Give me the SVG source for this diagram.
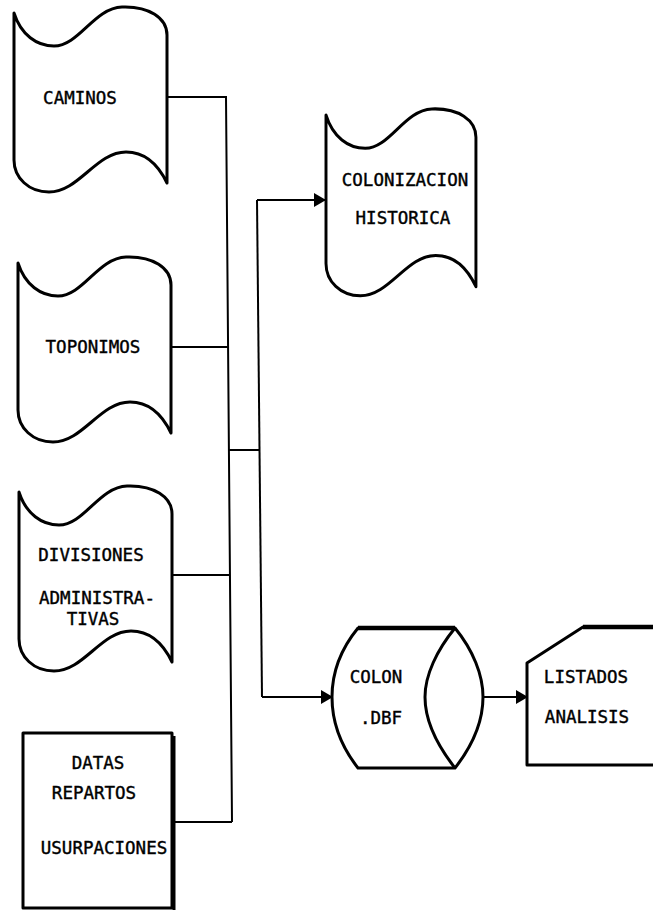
<svg xmlns="http://www.w3.org/2000/svg" width="653" height="915" viewBox="0 0 653 915">
  <defs>
    <style>
      .shape { fill: #fff; stroke: #000; stroke-width: 3; stroke-linejoin: round; }
      .wire { fill: none; stroke: #000; stroke-width: 2; }
      .lbl { font-family: "DejaVu Sans Mono", "Liberation Mono", monospace; font-size: 17.5px; text-anchor: middle; fill: #000; stroke: #000; stroke-width: 0.4; }
    </style>
    <!-- punched-tape outline, origin at its top-left corner -->
    <path id="tape" d="M0,0 C7,22 23,33 40,33 C65,33 80,-5 108,-6 C135,-7 153,5 153,22 L153,170 C142,147 127,139 112,139 C82,139 65,179 35,179 C15,179 0,165 0,147 Z"/>
    <marker id="arrow" markerUnits="userSpaceOnUse" markerWidth="13" markerHeight="14" refX="12" refY="7" orient="auto">
      <path d="M0,0 L12,7 L0,14 Z" fill="#000"/>
    </marker>
  </defs>
  <rect width="653" height="915" fill="#fff"/>

  <g id="connectors">
    <polyline class="wire" points="166,97 226,97 232,822"/>
    <line class="wire" x1="172" y1="347" x2="228" y2="347"/>
    <line class="wire" x1="173" y1="575" x2="230" y2="575"/>
    <line class="wire" x1="175" y1="822" x2="232" y2="822"/>
    <line class="wire" x1="229" y1="450" x2="259" y2="450"/>
    <line class="wire" x1="257" y1="200" x2="262" y2="697"/>
    <line class="wire" x1="257" y1="200" x2="326" y2="200" marker-end="url(#arrow)"/>
    <line class="wire" x1="262" y1="697" x2="333" y2="697" marker-end="url(#arrow)"/>
    <line class="wire" x1="483" y1="697" x2="528" y2="697" marker-end="url(#arrow)"/>
  </g>

  <g id="caminos">
    <use href="#tape" class="shape" x="14" y="13"/>
    <text class="lbl" x="80" y="104">CAMINOS</text>
  </g>

  <g id="toponimos">
    <use href="#tape" class="shape" x="18" y="263"/>
    <text class="lbl" x="93" y="353">TOPONIMOS</text>
  </g>

  <g id="divisiones">
    <use href="#tape" class="shape" x="19" y="492"/>
    <text class="lbl" x="91" y="561">DIVISIONES</text>
    <text class="lbl" x="97" y="604">ADMINISTRA-</text>
    <text class="lbl" x="93" y="625">TIVAS</text>
  </g>

  <g id="datas">
    <rect class="shape" x="23" y="733" width="149" height="175" stroke-width="2.5"/>
    <line x1="174" y1="736" x2="174" y2="910" stroke="#000" stroke-width="3"/>
    <text class="lbl" x="98" y="769">DATAS</text>
    <text class="lbl" x="94" y="799">REPARTOS</text>
    <text class="lbl" x="104" y="854">USURPACIONES</text>
  </g>

  <g id="colonizacion">
    <use href="#tape" class="shape" x="326" y="115" transform="translate(326,115) scale(0.98,1.01) translate(-326,-115)"/>
    <text class="lbl" x="405" y="186">COLONIZACION</text>
    <text class="lbl" x="403" y="224">HISTORICA</text>
  </g>

  <g id="colon-dbf">
    <path class="shape" d="M358,628 L455,628 C473,650 483,675 483,697 C483,720 473,745 455,768 L358,768 C340,745 332,720 332,697 C332,675 340,650 358,628 Z"/>
    <path d="M358,628 L455,628" stroke="#000" stroke-width="4.5" fill="none"/>
    <path class="shape" fill="none" d="M455,628 C437,650 425,675 425,697 C425,720 437,745 455,768"/>
    <text class="lbl" x="376" y="683">COLON</text>
    <text class="lbl" x="381" y="724">.DBF</text>
  </g>

  <g id="listados">
    <path class="shape" d="M665,627 L583,627 L527,663 L527,765 L665,765"/>
    <path d="M583,627 L665,627" stroke="#000" stroke-width="4.5" fill="none"/>
    <text class="lbl" x="586" y="683">LISTADOS</text>
    <text class="lbl" x="587" y="723">ANALISIS</text>
  </g>
</svg>
